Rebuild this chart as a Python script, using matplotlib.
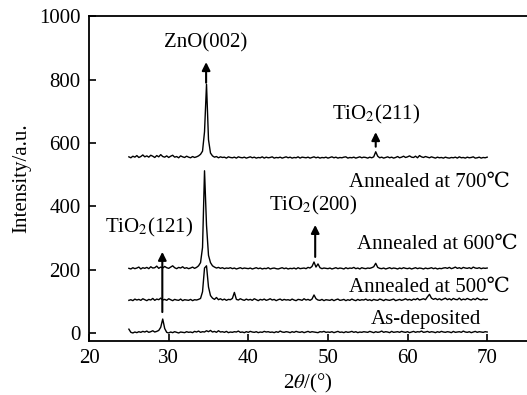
import numpy as np
import matplotlib
matplotlib.use("Agg")
from matplotlib import pyplot as plt

plt.rcParams['font.family'] = ['Liberation Serif', 'DejaVu Serif']
plt.rcParams['mathtext.fontset'] = 'stix'

# 2theta grid, 25..70 deg in 0.25 deg steps (181 points)
two_theta = np.arange(181) * 0.25 + 25.0

# baselines of each pattern (stacked)
base_asdep = 0
base_500 = 100
base_600 = 200
base_700 = 550

# intensity above baseline
asdep = [12, 2, 0, 3, 1, 4, 2, 5, 3, 6, 2, 4, 7, 3, 5, 8, 18, 44, 14, 2,
         0, 3, 1, 4, 2, 0, 3, 2, 1, 4, 2, 3, 1, 5, 3, 6, 2, 4, 3, 7,
         4, 8, 3, 5, 2, 7, 3, 4, 2, 5, 1, 3, 2, 4, 3, 6, 2, 3, 1, 4,
         2, 5, 3, 2, 4, 1, 3, 2, 5, 3, 4, 2, 3, 1, 4, 2, 6, 3, 2, 4,
         3, 1, 4, 2, 5, 3, 2, 4, 1, 3, 5, 2, 4, 3, 2, 1, 4, 3, 5, 2,
         3, 2, 4, 1, 3, 5, 2, 3, 1, 4, 2, 3, 5, 2, 4, 1, 3, 2, 4, 3,
         2, 5, 3, 1, 4, 2, 3, 6, 2, 4, 3, 1, 5, 2, 3, 4, 2, 5, 3, 2,
         4, 1, 3, 5, 2, 4, 3, 6, 2, 3, 5, 2, 4, 3, 1, 4, 2, 5, 3, 2,
         4, 3, 1, 5, 2, 3, 4, 2, 6, 3, 2, 4, 1, 3, 5, 2, 4, 3, 2, 4,
         3]

ann500 = [3, 5, 2, 7, 4, 6, 3, 8, 5, 2, 6, 4, 9, 3, 7, 5, 10, 4, 6, 3,
          8, 5, 2, 6, 4, 3, 7, 2, 5, 4, 3, 6, 2, 5, 4, 6, 9, 30, 105, 112,
          45, 18, 10, 6, 12, 5, 8, 4, 7, 3, 6, 5, 9, 28, 6, 4, 8, 5, 3, 7,
          4, 6, 3, 8, 5, 2, 6, 4, 7, 3, 5, 8, 4, 6, 2, 5, 7, 3, 6, 4,
          5, 3, 7, 4, 2, 6, 5, 3, 8, 4, 6, 3, 7, 20, 8, 4, 3, 6, 2, 5,
          4, 3, 6, 2, 5, 7, 3, 4, 6, 2, 5, 3, 7, 4, 2, 6, 3, 5, 4, 7,
          3, 5, 2, 6, 4, 3, 7, 5, 2, 6, 4, 3, 5, 7, 2, 4, 6, 3, 5, 8,
          4, 6, 3, 7, 5, 9, 4, 6, 8, 5, 14, 22, 10, 6, 9, 5, 8, 4, 7, 10,
          5, 8, 4, 9, 6, 5, 10, 4, 7, 5, 9, 6, 4, 8, 5, 10, 6, 4, 7, 5,
          6]

ann600 = [4, 2, 6, 3, 5, 8, 2, 6, 4, 7, 3, 9, 5, 6, 11, 4, 8, 5, 10, 6,
          4, 8, 12, 6, 3, 7, 5, 9, 4, 6, 3, 5, 8, 4, 7, 12, 22, 70, 312, 140,
          45, 22, 12, 8, 5, 7, 4, 6, 3, 5, 4, 6, 3, 5, 2, 4, 6, 3, 5, 4,
          3, 5, 2, 4, 6, 3, 5, 2, 4, 3, 6, 2, 4, 5, 3, 2, 4, 6, 3, 5,
          2, 4, 3, 5, 2, 6, 3, 4, 5, 3, 7, 5, 10, 24, 8, 18, 6, 3, 5, 4,
          3, 5, 2, 4, 6, 3, 5, 4, 2, 6, 3, 5, 4, 7, 3, 5, 2, 6, 4, 3,
          5, 4, 6, 9, 20, 7, 4, 3, 5, 2, 4, 6, 3, 5, 4, 2, 5, 3, 6, 4,
          3, 5, 2, 4, 6, 3, 5, 4, 2, 5, 3, 4, 6, 3, 5, 2, 4, 3, 5, 6,
          4, 7, 3, 5, 8, 4, 6, 3, 7, 5, 4, 6, 3, 8, 5, 4, 6, 3, 5, 4,
          5]

ann700 = [6, 3, 8, 5, 10, 4, 7, 12, 6, 9, 5, 11, 8, 4, 10, 6, 13, 7, 5, 9,
          4, 8, 11, 5, 7, 3, 9, 6, 4, 8, 5, 3, 7, 4, 6, 9, 14, 24, 85, 235,
          60, 18, 9, 5, 7, 3, 6, 4, 5, 2, 6, 4, 3, 5, 2, 6, 4, 3, 5, 2,
          4, 6, 3, 5, 2, 4, 3, 6, 2, 5, 3, 4, 6, 2, 4, 3, 5, 2, 4, 6,
          3, 5, 2, 4, 3, 6, 2, 5, 4, 3, 5, 2, 4, 6, 3, 5, 2, 4, 3, 5,
          2, 4, 6, 3, 5, 2, 4, 3, 5, 6, 2, 4, 3, 5, 2, 4, 6, 3, 5, 4,
          2, 5, 3, 6, 22, 8, 3, 5, 2, 4, 6, 3, 5, 2, 4, 7, 3, 5, 8, 4,
          6, 9, 5, 4, 8, 3, 10, 6, 4, 7, 5, 3, 6, 4, 2, 5, 3, 4, 2, 5,
          3, 2, 4, 3, 5, 2, 6, 3, 4, 2, 5, 3, 4, 6, 2, 3, 5, 2, 4, 3,
          5]

patterns = [(asdep, base_asdep), (ann500, base_500), (ann600, base_600), (ann700, base_700)]

# curve labels: text, right edge x, y
curve_labels = [("As-deposited", 69.3, 43),
                ("Annealed at 500\u2103", 72.9, 144),
                ("Annealed at 600\u2103", 73.8, 280),
                ("Annealed at 700\u2103", 72.9, 475)]

# peak markers: text, text x, text y, arrow x, arrow base y, arrow tip y
peak_marks = [("ZnO(002)", 34.7, 915, 34.7, 790, 855),
              ("TiO$_2$(211)", 56.0, 690, 56.0, 588, 634),
              ("TiO$_2$(200)", 48.2, 404, 48.4, 240, 341),
              ("TiO$_2$(121)", 27.5, 334, 29.2, 66, 256)]

fig = plt.figure(figsize=(5.27, 3.95), dpi=100)
ax = fig.add_axes([0.169, 0.137, 0.831, 0.822])

for vals, base in patterns:
    ax.plot(two_theta, np.array(vals) + base, color='black', lw=1.0)

for txt, x, y in curve_labels:
    ax.text(x, y, txt, ha='right', va='center', fontsize=15)

for txt, tx, ty, ax_x, y0, y1 in peak_marks:
    ax.text(tx, ty, txt, ha='center', va='center', fontsize=15)
    ax.annotate('', xy=(ax_x, y1), xytext=(ax_x, y0),
                arrowprops=dict(arrowstyle='-|>', color='black', lw=1.5,
                                mutation_scale=12, shrinkA=0, shrinkB=0))

ax.set_xlim(20, 75)
ax.set_ylim(-25, 1000)
ax.set_xticks([20, 30, 40, 50, 60, 70])
ax.set_yticks([0, 200, 400, 600, 800, 1000])
ax.tick_params(direction='in', length=5, width=1.2, labelsize=15, pad=6)
ax.spines['right'].set_visible(False)
for s in ['left', 'bottom', 'top']:
    ax.spines[s].set_linewidth(1.3)
ax.set_xlabel('2$\\theta$/(\u00b0)', fontsize=15, labelpad=3)
ax.set_ylabel('Intensity/a.u.', fontsize=15, labelpad=6)

fig.savefig('out.png', dpi=100)
